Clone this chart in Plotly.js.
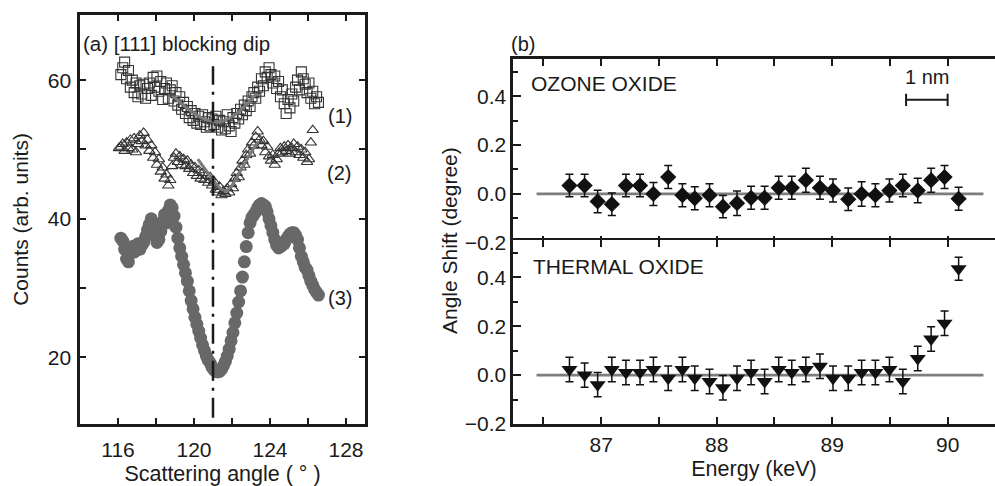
<!DOCTYPE html>
<html><head><meta charset="utf-8">
<script src="https://cdn.plot.ly/plotly-3.0.1.min.js"></script>
<style>html,body{margin:0;padding:0;background:#fff}#chart{width:995px;height:486px}</style>
</head><body><div id="chart"></div>
<script>
// ---------- Panel (a): blocking dip ----------
const angleSq = [116.15,116.25,116.35,116.45,116.55,116.65,116.75,116.85,116.95,117.05,
117.15,117.25,117.35,117.45,117.55,117.65,117.75,117.85,117.95,118.05,
118.15,118.25,118.35,118.45,118.55,118.65,118.75,118.85,118.95,119.05,
119.15,119.25,119.35,119.45,119.55,119.65,119.75,119.85,119.95,120.05,
120.15,120.25,120.35,120.45,120.55,120.65,120.75,120.85,120.95,121.05,
121.15,121.25,121.35,121.45,121.55,121.65,121.75,121.85,121.95,122.05,
122.15,122.25,122.35,122.45,122.55,122.65,122.75,122.85,122.95,123.05,
123.15,123.25,123.35,123.45,123.55,123.65,123.75,123.85,123.95,124.05,
124.15,124.25,124.35,124.45,124.55,124.65,124.75,124.85,124.95,125.05,
125.15,125.25,125.35,125.45,125.55,125.65,125.75,125.85,125.95,126.05,
126.15,126.25,126.35,126.45,126.55];
const countsSq = [60.8,61.8,62.6,60.2,61.4,59.0,60.0,58.2,59.6,57.6,
59.2,58.0,59.4,57.4,58.8,59.6,57.8,60.4,59.0,60.6,
58.4,59.8,57.2,58.8,59.6,57.4,58.6,59.2,57.0,58.2,
56.4,57.6,55.8,56.8,55.2,56.2,54.6,55.6,54.2,55.2,
53.8,54.8,53.6,55.0,54.0,53.2,54.6,53.4,54.4,53.6,
54.8,53.2,54.2,52.8,54.0,53.0,55.0,53.4,52.6,54.6,
53.8,55.2,54.4,55.8,55.0,56.4,55.6,57.0,56.2,57.6,
58.2,57.4,59.0,58.4,60.2,59.2,61.2,60.4,61.8,60.8,
59.6,60.6,58.8,59.8,57.6,58.6,56.6,55.2,57.2,56.0,
58.0,57.0,59.0,60.0,58.6,61.2,60.2,59.4,58.2,59.6,
57.4,58.4,56.6,57.6,56.8];

const angleTri = [116.05,116.15,116.25,116.35,116.45,116.55,116.65,116.75,116.85,116.95,
117.05,117.15,117.25,117.35,117.45,117.55,117.65,117.75,117.85,117.95,
118.05,118.15,118.25,118.35,118.45,118.55,118.65,118.75,118.85,118.95,
119.05,119.15,119.25,119.35,119.45,119.55,119.65,119.75,119.85,119.95,
120.05,120.15,120.25,120.35,120.45,120.55,120.65,120.75,120.85,120.95,
121.05,121.15,121.25,121.35,121.45,121.55,121.65,121.75,121.85,121.95,
122.05,122.15,122.25,122.35,122.45,122.55,122.65,122.75,122.85,122.95,
123.05,123.15,123.25,123.35,123.45,123.55,123.65,123.75,123.85,123.95,
124.05,124.15,124.25,124.35,124.45,124.55,124.65,124.75,124.85,124.95,
125.05,125.15,125.25,125.35,125.45,125.55,125.65,125.75,125.85,125.95,
126.05,126.15,126.25];
const countsTri = [50.2,50.4,50.8,49.8,51.0,50.2,51.4,50.0,51.6,49.6,
50.8,52.0,51.2,52.4,50.6,51.4,49.8,50.6,48.8,49.6,
47.8,48.6,46.8,47.4,45.8,46.4,44.8,45.6,47.6,48.8,
49.4,48.2,49.0,47.8,48.6,47.6,48.4,47.2,47.8,46.6,
47.4,46.2,47.0,45.8,46.6,45.6,46.2,45.2,46.0,44.8,
45.4,44.2,43.8,44.6,43.4,44.0,43.6,44.4,43.8,45.0,
44.4,45.8,46.6,46.0,47.4,48.4,47.8,49.2,50.0,49.4,
51.0,50.6,51.8,52.6,51.4,50.6,51.2,49.6,50.4,49.0,
48.4,49.2,47.8,48.6,49.4,50.2,49.6,50.4,49.8,50.6,
49.4,50.2,50.8,49.6,50.4,49.2,50.0,48.8,49.6,48.2,
48.6,51.0,52.8];

const angleCirc = angleSq.slice(); // same angle channels as series (1)
const countsCirc = [37.2,36.8,35.6,34.2,33.8,35.0,36.0,35.2,35.8,36.4,
35.6,36.2,36.6,37.4,38.4,39.2,40.0,39.0,37.6,36.6,
37.0,38.2,39.6,40.6,39.4,41.2,42.0,41.6,40.4,38.8,
37.2,35.8,34.6,33.4,32.2,31.0,29.6,28.2,27.0,25.8,
24.8,23.8,22.8,21.8,21.0,20.2,19.6,19.2,18.6,18.2,
18.0,17.9,18.0,18.3,18.8,19.4,20.2,21.2,22.4,23.6,
25.0,26.4,28.0,29.6,31.6,33.8,36.0,38.0,39.4,40.2,
40.6,41.0,41.6,42.0,42.2,42.0,41.8,41.0,40.0,39.0,
38.0,37.0,36.2,35.8,36.0,36.2,36.4,37.0,37.4,37.8,
38.0,38.0,37.6,37.0,35.8,34.6,33.8,33.0,32.6,31.8,
31.0,30.4,29.8,29.4,29.0];

const fit1Angle = [118.9,119.3,119.7,120.1,120.5,120.9,121.3,121.7,122.1,122.5,122.9,123.3];
const fit1Counts = [57.7,56.7,55.8,55.0,54.4,54.1,54.0,54.3,54.9,55.8,56.9,58.1];
const fit2Angle = [120.2,120.6,121.0,121.4,121.7,122.0,122.4,122.8,123.1,123.4];
const fit2Counts = [48.6,47.1,45.6,44.3,44.0,44.8,46.6,48.6,50.0,51.2];

const dipAngle = 121.0;

// ---------- Panel (b): angle shift vs energy ----------
const energy = [86.725,86.856,86.969,87.092,87.214,87.336,87.452,87.580,87.703,87.810,
87.938,88.054,88.176,88.298,88.415,88.537,88.650,88.772,88.894,89.007,
89.139,89.255,89.374,89.496,89.612,89.741,89.857,89.973,90.095];
const ozoneShift = [0.034,0.034,-0.031,-0.042,0.034,0.034,0.0,0.069,-0.005,-0.018,
-0.005,-0.052,-0.038,-0.016,-0.016,0.025,0.025,0.056,0.025,0.014,
-0.022,0.0,-0.005,0.014,0.034,0.014,0.056,0.069,-0.02];
const ozoneErr = [0.046,0.046,0.046,0.046,0.046,0.046,0.047,0.047,0.047,0.047,
0.047,0.046,0.05,0.047,0.047,0.047,0.047,0.049,0.047,0.047,
0.046,0.05,0.047,0.047,0.046,0.05,0.049,0.047,0.047];
const thermalShift = [0.023,0.0,-0.039,0.023,0.011,0.011,0.023,-0.013,0.023,-0.013,
-0.026,-0.052,-0.013,0.011,-0.026,0.023,0.011,0.023,0.036,-0.013,
-0.013,0.011,0.011,0.023,-0.026,0.068,0.148,0.212,0.435];
const thermalErr = [0.05,0.05,0.05,0.05,0.05,0.05,0.05,0.05,0.05,0.05,
0.05,0.05,0.05,0.05,0.05,0.05,0.05,0.05,0.05,0.05,
0.05,0.05,0.05,0.05,0.05,0.05,0.05,0.05,0.047];

const zeroLineFrom = 86.44, zeroLineTo = 90.31;
const scaleBarFrom = 89.64, scaleBarTo = 90.0, scaleBarLevel = 0.385;

// ---------- layout helpers ----------
const FONT = 'Liberation Sans, Arial, Helvetica, sans-serif';
const INK = '#1a1a1a';
const LW = 2.6;
const W = 995, H = 486, M = {l:80, r:0, t:15, b:62};
const pw = W - M.l - M.r, ph = H - M.t - M.b;
const fx = px => (px - M.l) / pw;
const fy = py => 1 - (py - M.t) / ph;

function axisBase(extra) {
  return Object.assign({
    showline: true, linewidth: LW, linecolor: INK,
    ticks: 'inside', tickwidth: 2, tickcolor: INK, ticklen: 6,
    showgrid: false, zeroline: false,
    tickfont: {family: FONT, size: 21, color: INK},
    tickmode: 'linear', ticklabelstandoff: 2
  }, extra);
}

const traces = [
  {x: angleSq, y: countsSq, type: 'scatter', mode: 'markers', xaxis: 'x', yaxis: 'y',
   marker: {symbol: 'square-open', size: 10, color: '#333', line: {width: 1.1}}, name: '(1)'},
  {x: angleTri, y: countsTri, type: 'scatter', mode: 'markers', xaxis: 'x', yaxis: 'y',
   marker: {symbol: 'triangle-up-open', size: 10, color: '#333', line: {width: 1.1}}, name: '(2)'},
  {x: angleCirc, y: countsCirc, type: 'scatter', mode: 'markers', xaxis: 'x', yaxis: 'y',
   marker: {symbol: 'circle', size: 13, color: '#686868'}, name: '(3)'},
  {x: fit1Angle, y: fit1Counts, type: 'scatter', mode: 'lines', xaxis: 'x', yaxis: 'y',
   line: {color: '#7a7a7a', width: 3, shape: 'spline'}, name: 'fit (1)'},
  {x: fit2Angle, y: fit2Counts, type: 'scatter', mode: 'lines', xaxis: 'x', yaxis: 'y',
   line: {color: '#7a7a7a', width: 3}, name: 'fit (2)'},
  {x: energy, y: ozoneShift, type: 'scatter', mode: 'markers', xaxis: 'x2', yaxis: 'y2',
   marker: {symbol: 'diamond', size: 12.5, color: '#111'},
   error_y: {type: 'data', array: ozoneErr, color: '#111', thickness: 1.5, width: 4}, name: 'ozone'},
  {x: energy, y: thermalShift, type: 'scatter', mode: 'markers', xaxis: 'x3', yaxis: 'y3',
   marker: {symbol: 'triangle-down', size: 14, color: '#111'},
   error_y: {type: 'data', array: thermalErr, color: '#111', thickness: 1.5, width: 4}, name: 'thermal'}
];

const minorX = d => ({ticks: 'inside', dtick: d, ticklen: 6, tickwidth: 2, tickcolor: INK});
const rightDomain = [fx(513), 1];
const divider = 241.5;

const layout = {
  width: W, height: H, margin: M, showlegend: false,
  paper_bgcolor: '#fff', plot_bgcolor: '#fff',
  font: {family: FONT, size: 20, color: INK},
  xaxis: axisBase({domain: [fx(80), fx(365)], anchor: 'y', range: [114, 129], mirror: 'ticks',
    tick0: 116, dtick: 4, minor: minorX(2), ticklabelstandoff: 5,
    title: {text: 'Scattering angle ( ° )', font: {family: FONT, size: 21.5, color: INK}, standoff: 6}}),
  yaxis: axisBase({domain: [fy(424), fy(15)], anchor: 'x', range: [10.4, 69.4], mirror: 'ticks',
    tick0: 20, dtick: 20, minor: minorX(10), ticklabelstandoff: 2,
    title: {text: 'Counts (arb. units)', font: {family: FONT, size: 21, color: INK}, standoff: 14}}),
  xaxis2: axisBase({domain: rightDomain, anchor: 'y2', range: [86.236, 90.41], mirror: 'ticks',
    tick0: 87, dtick: 1, ticklen: 7, minor: Object.assign(minorX(0.5), {ticklen: 7}), showticklabels: false}),
  yaxis2: axisBase({domain: [fy(divider + LW / 2), fy(59)], anchor: 'x2', range: [-0.2, 0.552],
    tick0: 0, dtick: 0.2, tickformat: '.1f', ticklen: 8, minor: Object.assign(minorX(0.1), {ticklen: 5}),
    ticklabelstandoff: 0}),
  xaxis3: axisBase({domain: rightDomain, anchor: 'y3', range: [86.236, 90.41], mirror: 'ticks',
    tick0: 87, dtick: 1, ticklen: 7, minor: Object.assign(minorX(0.5), {ticklen: 7}), ticklabelstandoff: 0,
    title: {text: 'Energy (keV)', font: {family: FONT, size: 21.5, color: INK}, standoff: 6}}),
  yaxis3: axisBase({domain: [fy(424), fy(divider - LW / 2)], anchor: 'x3', range: [-0.2, 0.552],
    tick0: 0, dtick: 0.2, tickformat: '.1f', ticklen: 8, minor: Object.assign(minorX(0.1), {ticklen: 5}),
    ticklabelstandoff: 0}),
  shapes: [
    {type: 'line', xref: 'x', yref: 'y', x0: dipAngle, x1: dipAngle, y0: 11.3, y1: 62,
     line: {color: INK, width: 2.5, dash: '20px,7px,3px,7px'}},
    {type: 'line', xref: 'x2', yref: 'y2', x0: zeroLineFrom, x1: zeroLineTo, y0: 0, y1: 0,
     line: {color: '#7d7d7d', width: 2.8}, layer: 'below'},
    {type: 'line', xref: 'x3', yref: 'y3', x0: zeroLineFrom, x1: zeroLineTo, y0: 0, y1: 0,
     line: {color: '#7d7d7d', width: 2.8}, layer: 'below'},
    {type: 'line', xref: 'x2', yref: 'y2', x0: scaleBarFrom, x1: scaleBarTo, y0: scaleBarLevel, y1: scaleBarLevel,
     line: {color: INK, width: 2}},
    {type: 'line', xref: 'x2', yref: 'y2', x0: scaleBarFrom, x1: scaleBarFrom, y0: scaleBarLevel - 0.025, y1: scaleBarLevel + 0.025,
     line: {color: INK, width: 2}},
    {type: 'line', xref: 'x2', yref: 'y2', x0: scaleBarTo, x1: scaleBarTo, y0: scaleBarLevel - 0.025, y1: scaleBarLevel + 0.025,
     line: {color: INK, width: 2}}
  ],
  annotations: [
    {text: '(a) [111] blocking dip', xref: 'paper', yref: 'paper', x: fx(81), y: fy(44), xanchor: 'left', yanchor: 'middle', showarrow: false, font: {size: 20.5}},
    {text: '(1)', xref: 'paper', yref: 'paper', x: fx(326), y: fy(116), xanchor: 'left', yanchor: 'middle', showarrow: false, font: {size: 20}},
    {text: '(2)', xref: 'paper', yref: 'paper', x: fx(325), y: fy(173), xanchor: 'left', yanchor: 'middle', showarrow: false, font: {size: 20}},
    {text: '(3)', xref: 'paper', yref: 'paper', x: fx(326), y: fy(298), xanchor: 'left', yanchor: 'middle', showarrow: false, font: {size: 20}},
    {text: '(b)', xref: 'paper', yref: 'paper', x: fx(509), y: fy(44), xanchor: 'left', yanchor: 'middle', showarrow: false, font: {size: 20}},
    {text: 'OZONE OXIDE', xref: 'paper', yref: 'paper', x: fx(529), y: fy(83), xanchor: 'left', yanchor: 'middle', showarrow: false, font: {size: 21}},
    {text: 'THERMAL OXIDE', xref: 'paper', yref: 'paper', x: fx(531), y: fy(266), xanchor: 'left', yanchor: 'middle', showarrow: false, font: {size: 21}},
    {text: '1 nm', xref: 'x2', yref: 'paper', x: (scaleBarFrom + scaleBarTo) / 2, y: fy(77), xanchor: 'center', yanchor: 'middle', showarrow: false, font: {size: 20}},
    {text: 'Angle Shift (degree)', xref: 'paper', yref: 'paper', x: fx(449), y: fy(241), xanchor: 'center', yanchor: 'middle', textangle: -90, showarrow: false, font: {size: 21}}
  ]
};

Plotly.newPlot('chart', traces, layout, {displayModeBar: false, staticPlot: true});
</script></body></html>
